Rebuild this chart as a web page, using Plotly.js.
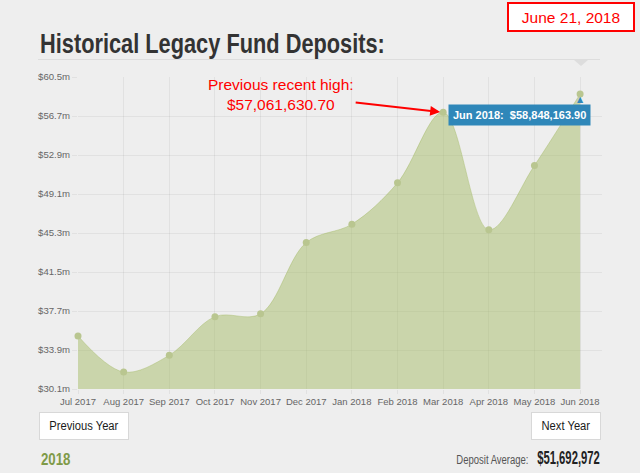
<!DOCTYPE html>
<html>
<head>
<meta charset="utf-8">
<script src="https://cdn.plot.ly/plotly-3.0.1.min.js"></script>
<style>
  html, body { margin: 0; padding: 0; background: #eeeeee; }
  #chart { width: 640px; height: 473px; }
</style>
</head>
<body>
<div id="chart"></div>
<script>
// ---- data ----
const months = ['Jul 2017','Aug 2017','Sep 2017','Oct 2017','Nov 2017','Dec 2017',
                'Jan 2018','Feb 2018','Mar 2018','Apr 2018','May 2018','Jun 2018'];
const deposits = [35.27, 31.76, 33.39, 37.15, 37.42, 44.37,
                  46.16, 50.19, 57.06, 45.61, 51.88, 58.85]; // $ millions
const yTickVals = [30.1, 33.9, 37.7, 41.5, 45.3, 49.1, 52.9, 56.7, 60.5];
const yTickText = ['$30.1m','$33.9m','$37.7m','$41.5m','$45.3m','$49.1m','$52.9m','$56.7m','$60.5m'];
const titleText = 'Historical Legacy Fund Deposits:';
const dateText = 'June 21, 2018';
const highText = 'Previous recent high:<br>$57,061,630.70';
const tipText = 'Jun 2018:&nbsp; $58,848,163.90';
const yearText = '2018';
const avgLabel = 'Deposit Average:';
const avgValue = '$51,692,972';

// ---- layout helpers (pixel -> paper) ----
const L = 78, R = 38, T = 77, B = 84, W = 640, H = 473;
const PW = W - L - R, PH = H - T - B;
const X = px => (px - L) / PW;
const Y = py => (H - B - py) / PH;

const sans = "'Liberation Sans', Arial, sans-serif";
const grid = 'rgba(0,0,0,0.05)';

const trace = {
  type: 'scatter',
  x: months,
  y: deposits,
  mode: 'lines+markers',
  line: { shape: 'spline', smoothing: 1, color: 'rgba(165,187,103,0.45)', width: 1 },
  fill: 'tozeroy',
  fillcolor: 'rgba(165,187,103,0.5)',
  marker: { size: 7, color: '#b9c690' },
  cliponaxis: false,
  hoverinfo: 'skip'
};

const n = months.length;
const layout = {
  width: W, height: H,
  margin: { l: L, r: R, t: T, b: B },
  paper_bgcolor: '#eeeeee',
  plot_bgcolor: '#eeeeee',
  showlegend: false,
  hovermode: false,
  title: {
    text: titleText,
    font: { family: sans, size: 28, color: '#333333', weight: 'bold' },
    xref: 'container', yref: 'container',
    x: 40 / W, xanchor: 'left',
    y: 1 - 43.5 / H, yanchor: 'middle'
  },
  xaxis: {
    type: 'category',
    range: [0, (n - 1) * 1.0436],
    showgrid: true, gridcolor: grid, gridwidth: 1,
    ticks: 'outside', ticklen: 4, tickcolor: grid,
    tickangle: 0,
    tickfont: { family: sans, size: 9.5, color: '#666666' },
    zeroline: false, showline: false, fixedrange: true
  },
  yaxis: {
    range: [30.1, 60.5],
    tickmode: 'array', tickvals: yTickVals, ticktext: yTickText,
    showgrid: true, gridcolor: grid, gridwidth: 1,
    ticks: 'outside', ticklen: 5, tickcolor: grid,
    tickfont: { family: sans, size: 9.6, color: '#666666' },
    zeroline: false, showline: false, fixedrange: true
  },
  shapes: [
    { type: 'line', xref: 'paper', yref: 'paper', x0: X(38), x1: X(600), y0: Y(59.5), y1: Y(59.5),
      line: { color: '#dddddd', width: 1 } },
    { type: 'path', xref: 'paper', yref: 'paper',
      path: `M ${X(574)} ${Y(60)} L ${X(588)} ${Y(60)} L ${X(581)} ${Y(66)} Z`,
      fillcolor: '#dddddd', line: { width: 0 } }
  ],
  annotations: [
    { xref: 'x', yref: 'y', x: months[8], y: deposits[8],
      text: highText, align: 'center',
      font: { family: sans, size: 15.5, color: '#ff0000' },
      showarrow: true, arrowhead: 2, arrowsize: 1, arrowwidth: 2, arrowcolor: '#ff0000',
      ax: -162, ay: -18, standoff: 3 },
    { xref: 'x', yref: 'y', x: months[11], y: deposits[11],
      text: tipText, showarrow: false,
      font: { family: sans, size: 11, color: '#ffffff', weight: 'bold' },
      bgcolor: '#2f87b9', borderpad: 4,
      xanchor: 'right', yanchor: 'top', xshift: 10.7, yshift: -9.8 },
    { xref: 'x', yref: 'y', x: months[11], y: deposits[11],
      text: '▲', showarrow: false,
      font: { family: 'DejaVu Sans, sans-serif', size: 8, color: '#2f87b9' },
      xanchor: 'center', yanchor: 'bottom', yshift: -12 },
    { xref: 'paper', yref: 'paper', x: X(571.2), y: Y(16.7),
      text: dateText, showarrow: false,
      font: { family: sans, size: 15.5, color: '#ff0000' },
      bgcolor: '#ffffff', bordercolor: '#ff0000', borderwidth: 2, borderpad: 0,
      width: 124, height: 26, xanchor: 'center', yanchor: 'middle' },
    { xref: 'paper', yref: 'paper', x: X(84.1), y: Y(425.5),
      text: 'Previous Year', showarrow: false,
      font: { family: sans, size: 13.5, color: '#1a1a1a' },
      bgcolor: '#ffffff', bordercolor: '#d8d8d8', borderwidth: 1, borderpad: 0,
      width: 88, height: 26, xanchor: 'center', yanchor: 'middle' },
    { xref: 'paper', yref: 'paper', x: X(566), y: Y(425.5),
      text: 'Next Year', showarrow: false,
      font: { family: sans, size: 13.5, color: '#1a1a1a' },
      bgcolor: '#ffffff', bordercolor: '#d8d8d8', borderwidth: 1, borderpad: 0,
      width: 68, height: 26, xanchor: 'center', yanchor: 'middle' },
    { xref: 'paper', yref: 'paper', x: X(38.5), y: Y(459),
      text: yearText, showarrow: false,
      font: { family: sans, size: 16.8, color: '#7f9a48', weight: 'bold' },
      xanchor: 'left', yanchor: 'middle' },
    { xref: 'paper', yref: 'paper', x: X(531), y: Y(459.5),
      text: avgLabel, showarrow: false,
      font: { family: sans, size: 13.5, color: '#555555' },
      xanchor: 'right', yanchor: 'middle' },
    { xref: 'paper', yref: 'paper', x: X(602), y: Y(457.5),
      text: avgValue, showarrow: false,
      font: { family: sans, size: 18.5, color: '#222222', weight: 'bold' },
      xanchor: 'right', yanchor: 'middle' }
  ]
};

// horizontal condensing of text to mimic the condensed web font
function squeeze(el, s, anchor) {
  if (!el) return;
  const bb = el.getBBox();
  const cx = anchor === 'left' ? bb.x : anchor === 'right' ? bb.x + bb.width : bb.x + bb.width / 2;
  const prev = el.getAttribute('transform') || '';
  el.setAttribute('transform', (prev + ` translate(${cx},0) scale(${s},1) translate(${-cx},0)`).trim());
}

Plotly.newPlot('chart', [trace], layout, { staticPlot: true, displayModeBar: false }).then(gd => {
  squeeze(gd.querySelector('.gtitle'), 0.778, 'left');
  const sq = { 4: [0.83, 'center'], 5: [0.83, 'center'], 6: [0.79, 'left'], 7: [0.705, 'right'], 8: [0.61, 'right'] };
  gd.querySelectorAll('.annotation').forEach(a => {
    const i = a.getAttribute('data-index');
    if (sq[i]) squeeze(a.querySelector('text.annotation-text'), sq[i][0], sq[i][1]);
  });
});
</script>
</body>
</html>
